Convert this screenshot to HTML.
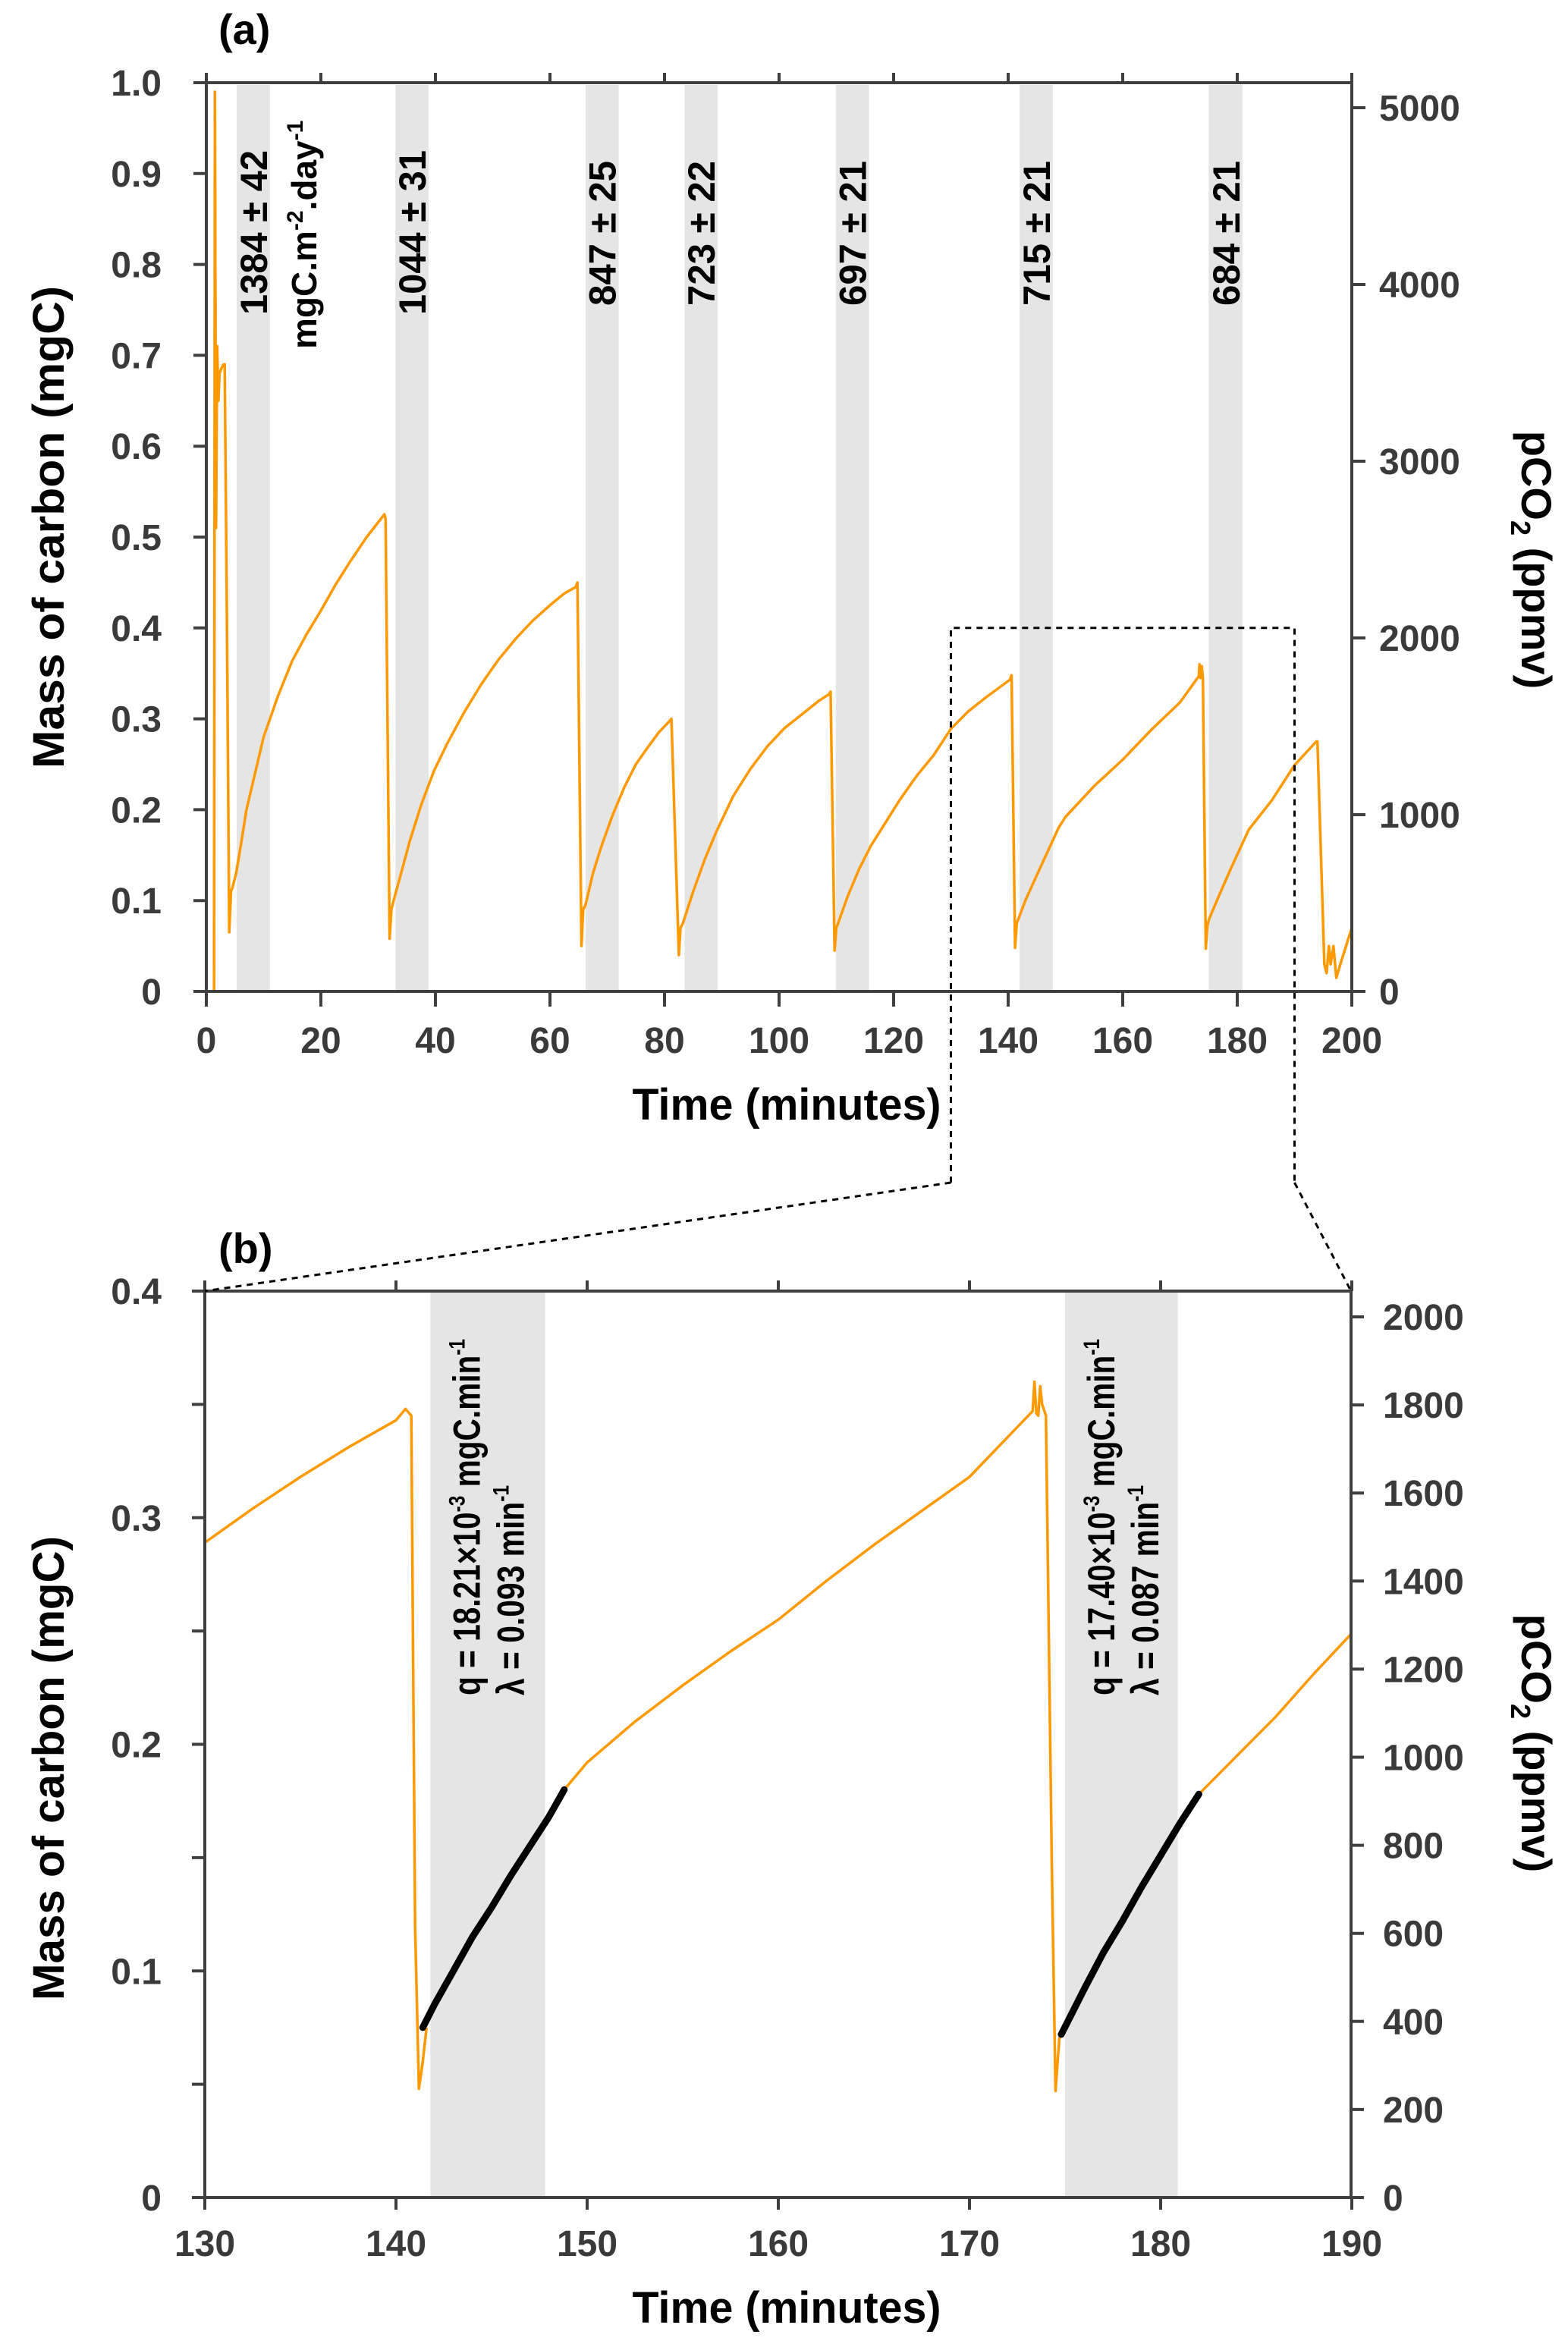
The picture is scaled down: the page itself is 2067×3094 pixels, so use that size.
<!DOCTYPE html>
<html><head><meta charset="utf-8">
<style>
html,body{margin:0;padding:0;background:#fff;}
svg{display:block;}
text{font-family:"Liberation Sans",sans-serif;font-weight:bold;}
.tk{fill:#3a3a3a;font-size:48px;}
</style></head>
<body>
<svg id="chart" xmlns="http://www.w3.org/2000/svg" width="2067" height="3094" viewBox="0 0 2067 3094">
<g id="gA"></g>
<g id="gB"></g>
<g id="gZ"></g>
</svg>
<script>
// ---------- Panel (a) data ----------
const aTime = [1.2,1.35,1.5,1.7,1.9,2.1,2.3,2.6,3.0,3.2,3.6,4.0,4.3,4.6,5.2,6,7,8.5,10,12.5,15,17.5,20,22.5,25,28,31.1,31.3,32.0,32.3,32.7,34,35.5,37.5,39.7,42,45,48,51,54,57,60,62.5,64.5,64.8,65.5,65.8,66.2,67.5,69,71,73,75,77,79,80.8,81.2,82.5,82.8,83.2,85,87,89,92,95,98,101,104,107,108.7,109,109.7,110,110.3,112,114,116,118,121,124,127,130,133,136,140.3,140.6,141.2,141.5,141.8,143,145,148.8,150,155,160,165,170,173.3,173.4,173.6,173.8,174,174.5,174.8,175.1,177,179,182,186,190,193.8,194,195.2,195.6,196,196.3,196.8,197.3,198,200];
const aMass = [0,0,0.99,0.51,0.71,0.65,0.68,0.685,0.69,0.69,0.4,0.065,0.11,0.115,0.13,0.16,0.2,0.24,0.28,0.325,0.364,0.393,0.419,0.447,0.472,0.5,0.525,0.52,0.058,0.09,0.1,0.13,0.165,0.205,0.242,0.272,0.307,0.338,0.365,0.388,0.408,0.425,0.438,0.445,0.45,0.05,0.09,0.095,0.13,0.16,0.195,0.225,0.25,0.268,0.285,0.297,0.3,0.04,0.07,0.075,0.11,0.145,0.175,0.215,0.245,0.27,0.29,0.305,0.32,0.327,0.33,0.045,0.07,0.075,0.105,0.135,0.16,0.18,0.21,0.237,0.26,0.289,0.308,0.323,0.343,0.348,0.048,0.075,0.08,0.1,0.128,0.18,0.192,0.226,0.255,0.288,0.318,0.347,0.36,0.345,0.358,0.345,0.047,0.073,0.08,0.108,0.137,0.178,0.21,0.249,0.275,0.275,0.03,0.02,0.05,0.03,0.05,0.015,0.03,0.07];
const aBandStart = [5.3,33,66.2,83.5,109.9,142,175];
const aBandEnd   = [11.1,38.8,72,89.3,115.7,147.8,180.9];
const aBandLabels = ["1384 ± 42","1044 ± 31","847 ± 25","723 ± 22","697 ± 21","715 ± 21","684 ± 21"];
const aXTicks = [0,20,40,60,80,100,120,140,160,180,200];
const aYTicks = [0,0.1,0.2,0.3,0.4,0.5,0.6,0.7,0.8,0.9,1.0];
const aYTickLabels = ["0","0.1","0.2","0.3","0.4","0.5","0.6","0.7","0.8","0.9","1.0"];
const aRTicks = [0,1000,2000,3000,4000,5000];
// ---------- Panel (b) data ----------
const bTime = [130,132.5,135,137.5,140,140.5,140.8,141.0,141.2,141.4,141.6];
const bMass = [0.289,0.304,0.318,0.331,0.343,0.348,0.345,0.12,0.048,0.06,0.075];
const bTime2 = [148.8,150,152.5,155,157.5,160,162.5,165,167.5,170,173.3,173.4,173.5,173.6,173.7,173.8,174,174.3,174.5,174.7,174.9];
const bMass2 = [0.180,0.192,0.21,0.226,0.241,0.255,0.272,0.288,0.303,0.318,0.347,0.36,0.346,0.345,0.358,0.35,0.345,0.15,0.047,0.07,0.075];
const bTime3 = [182,184,186,188,190];
const bMass3 = [0.178,0.195,0.212,0.231,0.249];
const bFitTime = [[141.4,142,143,144,145,146,147,148,148.8],[174.8,176,177,178,179,180,181,182]];
const bFitMass = [[0.075,0.085,0.1,0.115,0.128,0.142,0.155,0.168,0.180],[0.072,0.092,0.108,0.122,0.137,0.151,0.165,0.178]];
const bBandStart = [141.8,175];
const bBandEnd = [147.8,180.9];
const bXTicks = [130,140,150,160,170,180,190];
const bYTicks = [0,0.05,0.1,0.15,0.2,0.25,0.3,0.35,0.4];
const bYLabelTicks = [0,0.1,0.2,0.3,0.4];
const bRTicks = [0,200,400,600,800,1000,1200,1400,1600,1800,2000];

const NS="http://www.w3.org/2000/svg";
function mk(parent,tag,attrs,txt){const e=document.createElementNS(NS,tag);for(const k in attrs)e.setAttribute(k,attrs[k]);if(txt!==undefined)e.textContent=txt;parent.appendChild(e);return e;}
const AX="#404040";

const xA=t=>272+t*(1510/200), yA=m=>1307-m*1198, yAr=p=>1307-p*(1165/5000);
const xB=t=>270+(t-130)*25.2, yB=m=>2897-m*(1195/0.4), yBr=p=>2897-p*(1161/2000);

// ===== Panel A =====
const gA=document.getElementById('gA');
for(let i=0;i<aBandStart.length;i++){
  const r=mk(gA,'rect',{x:xA(aBandStart[i]),y:112,width:xA(aBandEnd[i])-xA(aBandStart[i]),height:1195,fill:'#e5e5e5'});
  
  
}
for(let i=0;i<aBandLabels.length;i++){
  const bx=xA(aBandEnd[i])-4;
  const long=i<2;
  const top=long?198:212, bot=long?415:403;
  const t=mk(gA,'text',{x:0,y:0,transform:`translate(${bx},${bot}) rotate(-90)`,'font-size':50,fill:'#000',textLength:bot-top,lengthAdjust:'spacingAndGlyphs'},aBandLabels[i]);
  
  
}
{const t=mk(gA,'text',{x:0,y:0,transform:'translate(417,460) rotate(-90)','font-size':46,fill:'#000'});

t.innerHTML='mgC.m<tspan dy="-18" font-size="30">-2</tspan><tspan dy="18">.day</tspan><tspan dy="-18" font-size="30">-1</tspan>';}
{let d='';for(let i=0;i<aTime.length;i++)d+=(i?'L':'M')+xA(aTime[i]).toFixed(1)+','+yA(aMass[i]).toFixed(1);
const p=mk(gA,'path',{d:d,fill:'none',stroke:'#ff9900','stroke-width':3.5,'stroke-linejoin':'round'});
}
mk(gA,'path',{d:'M272,109V1307H1782V109H272',fill:'none',stroke:AX,'stroke-width':4});
aXTicks.forEach(v=>{const x=xA(v);mk(gA,'line',{x1:x,y1:1307,x2:x,y2:1327,stroke:AX,'stroke-width':4});mk(gA,'line',{x1:x,y1:109,x2:x,y2:96,stroke:AX,'stroke-width':4});
 const t=mk(gA,'text',{x:x,y:1388,'text-anchor':'middle',class:'tk'},String(v));});
aYTicks.forEach((v,i)=>{const y=yA(v);mk(gA,'line',{x1:255,y1:y,x2:272,y2:y,stroke:AX,'stroke-width':4});
 const t=mk(gA,'text',{x:213,y:y+17,'text-anchor':'end',class:'tk'},aYTickLabels[i]);});
aRTicks.forEach(v=>{const y=yAr(v);mk(gA,'line',{x1:1782,y1:y,x2:1800,y2:y,stroke:AX,'stroke-width':4});
 const t=mk(gA,'text',{x:1818,y:y+17,class:'tk'},String(v));});
{const t=mk(gA,'text',{x:1037,y:1476,'text-anchor':'middle','font-size':58,fill:'#000',textLength:407,lengthAdjust:'spacingAndGlyphs'},'Time (minutes)');}
{const t=mk(gA,'text',{x:0,y:0,transform:'translate(84,695) rotate(-90)','text-anchor':'middle','font-size':58,fill:'#000',textLength:636,lengthAdjust:'spacingAndGlyphs'},'Mass of carbon  (mgC)');}
{const t=mk(gA,'text',{x:0,y:0,transform:'translate(2006,738) rotate(90)','text-anchor':'middle','font-size':56,fill:'#000'});
 t.innerHTML='pCO<tspan dy="14" font-size="36">2</tspan><tspan dy="-14"> (ppmv)</tspan>';}
{const t=mk(gA,'text',{x:288,y:58,'font-size':56,fill:'#000'},'(a)');}

// ===== Panel B =====
const gB=document.getElementById('gB');
for(let i=0;i<bBandStart.length;i++){
  const r=mk(gB,'rect',{x:xB(bBandStart[i]),y:1704,width:xB(bBandEnd[i])-xB(bBandStart[i]),height:1191,fill:'#e5e5e5'});
  
  
}
[[bTime,bMass],[bTime2,bMass2],[bTime3,bMass3]].forEach((s,k)=>{let d='';for(let i=0;i<s[0].length;i++)d+=(i?'L':'M')+xB(s[0][i]).toFixed(1)+','+yB(s[1][i]).toFixed(1);
 const p=mk(gB,'path',{d:d,fill:'none',stroke:'#ff9900','stroke-width':3.5,'stroke-linejoin':'round'});
 });
bFitTime.forEach((ts,k)=>{let d='';for(let i=0;i<ts.length;i++)d+=(i?'L':'M')+xB(ts[i]).toFixed(1)+','+yB(bFitMass[k][i]).toFixed(1);
 const p=mk(gB,'path',{d:d,fill:'none',stroke:'#000','stroke-width':9,'stroke-linecap':'round','stroke-linejoin':'round'});
 });
const qLabels=[["18.21","0.093"],["17.40","0.087"]];
for(let k=0;k<2;k++){const bx=xB(bBandStart[k]);
 const t1=mk(gB,'text',{x:0,y:0,transform:`translate(${bx+65},2235) rotate(-90)`,'font-size':50,fill:'#000',textLength:470,lengthAdjust:'spacingAndGlyphs'});
 
 t1.innerHTML='q = '+qLabels[k][0]+'×10<tspan dy="-20" font-size="30">-3</tspan><tspan dy="20"> mgC.min</tspan><tspan dy="-20" font-size="30">-1</tspan>';
 const t2=mk(gB,'text',{x:0,y:0,transform:`translate(${bx+123},2235) rotate(-90)`,'font-size':50,fill:'#000',textLength:277,lengthAdjust:'spacingAndGlyphs'});
 
 t2.innerHTML='λ = '+qLabels[k][1]+' min<tspan dy="-20" font-size="30">-1</tspan>';}
mk(gB,'path',{d:'M270,1702V2897H1781V1702H270',fill:'none',stroke:AX,'stroke-width':4});
bXTicks.forEach(v=>{const x=xB(v);mk(gB,'line',{x1:x,y1:2897,x2:x,y2:2913,stroke:AX,'stroke-width':4});mk(gB,'line',{x1:x,y1:1702,x2:x,y2:1688,stroke:AX,'stroke-width':4});
 const t=mk(gB,'text',{x:x,y:2974,'text-anchor':'middle',class:'tk'},String(v));});
bYTicks.forEach(v=>{const y=yB(v);mk(gB,'line',{x1:253,y1:y,x2:270,y2:y,stroke:AX,'stroke-width':4});});
bYLabelTicks.forEach(v=>{const y=yB(v);const t=mk(gB,'text',{x:213,y:y+17,'text-anchor':'end',class:'tk'},String(v));});
bRTicks.forEach(v=>{const y=yBr(v);mk(gB,'line',{x1:1781,y1:y,x2:1798,y2:y,stroke:AX,'stroke-width':4});
 const t=mk(gB,'text',{x:1823,y:y+17,class:'tk'},String(v));});
{const t=mk(gB,'text',{x:1037,y:3062,'text-anchor':'middle','font-size':58,fill:'#000',textLength:407,lengthAdjust:'spacingAndGlyphs'},'Time (minutes)');}
{const t=mk(gB,'text',{x:0,y:0,transform:'translate(84,2331) rotate(-90)','text-anchor':'middle','font-size':58,fill:'#000',textLength:612,lengthAdjust:'spacingAndGlyphs'},'Mass of carbon  (mgC)');}
{const t=mk(gB,'text',{x:0,y:0,transform:'translate(2006,2298) rotate(90)','text-anchor':'middle','font-size':56,fill:'#000'});
 t.innerHTML='pCO<tspan dy="14" font-size="36">2</tspan><tspan dy="-14"> (ppmv)</tspan>';}
{const t=mk(gB,'text',{x:288,y:1665,'font-size':56,fill:'#000'},'(b)');}

// ===== zoom indicator =====
const gZ=document.getElementById('gZ');
const zx1=xA(130), zx2=xA(190), zy=yA(0.4);
mk(gZ,'path',{d:`M${zx1},1559V${zy}H${zx2}V1559`,fill:'none',stroke:'#000','stroke-width':3,'stroke-dasharray':'8,7'});
mk(gZ,'path',{d:`M${zx1},1559L270,1702M${zx2},1559L1781,1702`,fill:'none',stroke:'#000','stroke-width':3,'stroke-dasharray':'8,7'});
</script>
</body></html>
